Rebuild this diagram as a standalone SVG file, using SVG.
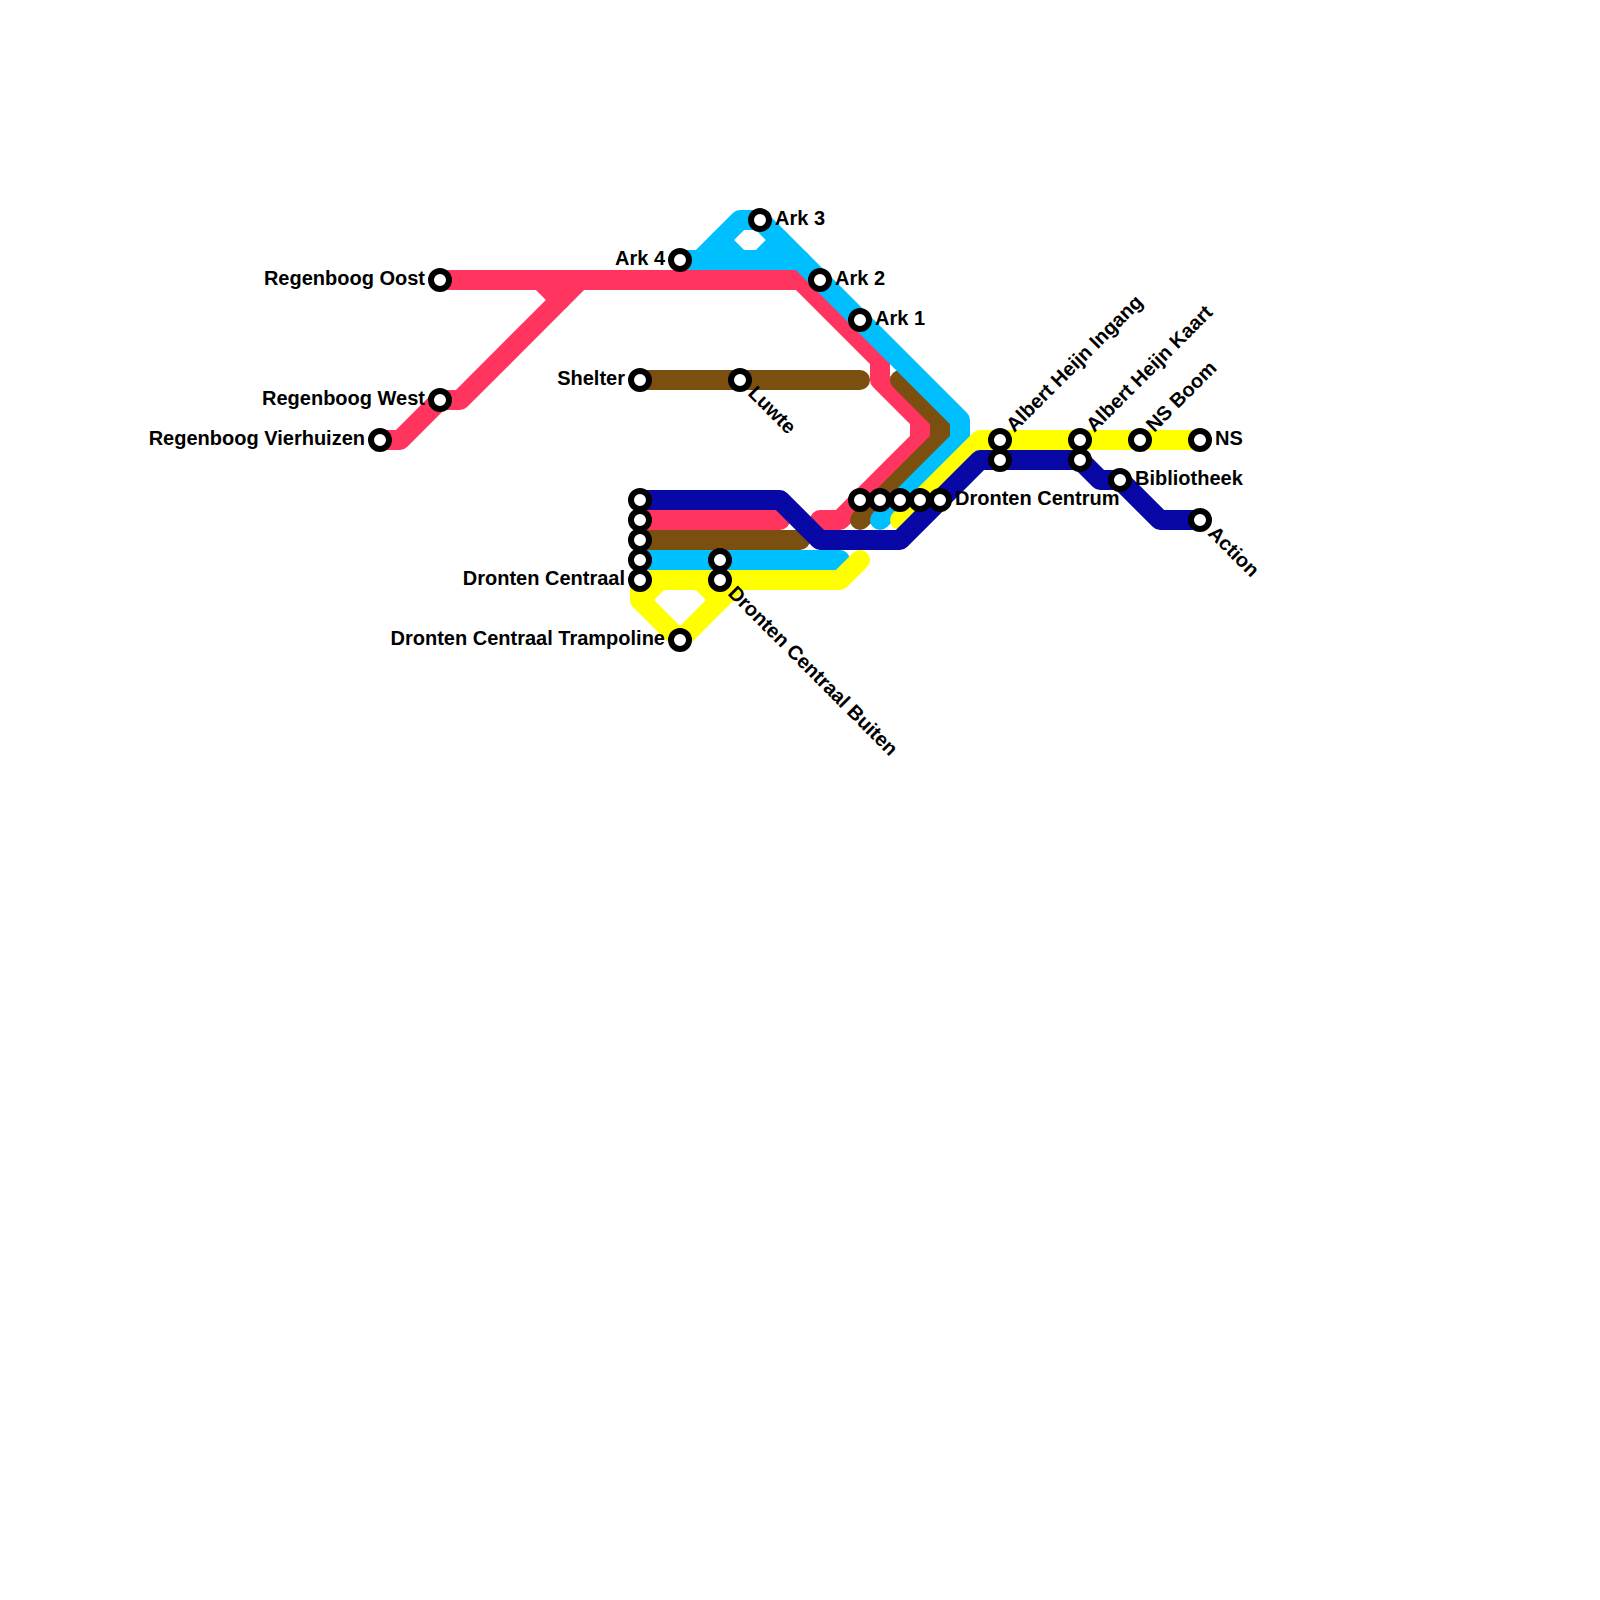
<svg xmlns="http://www.w3.org/2000/svg" width="1600" height="1600" viewBox="0 0 1600 1600">
<style>
.l{fill:none;stroke-width:20;stroke-linecap:round;stroke-linejoin:round}
.red{stroke:#ff3560}.cyan{stroke:#00bfff}.brown{stroke:#7b4f0f}.yellow{stroke:#ffff00}.navy{stroke:#0808a6}
.s{fill:#fff;stroke:#000;stroke-width:6}
text{font-family:"Liberation Sans",Arial,sans-serif;font-weight:700;font-size:20px;fill:#000}
.e{text-anchor:end}
</style>
<rect width="1600" height="1600" fill="#fff"/>
<g id="connectors">
<path class="l red" d="M440,280H800L880,360V380L920,420V440L840,520H820"/>
<path class="l red" d="M380,440H400L440,400H460L580,280"/>
<path class="l red" d="M540,280L560,300"/>
<path class="l red" d="M640,520H780"/>
<path class="l brown" d="M640,380H860"/>
<path class="l brown" d="M640,540H800"/>
<path class="l brown" d="M900,380L940,420V440L860,520"/>
<path class="l cyan" d="M640,560H840"/>
<path class="l cyan" d="M680,260H700L740,220H760L960,420V440L880,520"/>
<path class="l cyan" d="M680,260H800"/>
<path class="l cyan" d="M720,240L740,260M780,240L760,260"/>
<path class="l yellow" d="M640,580H840L860,560"/>
<path class="l yellow" d="M640,580V600L680,640L740,580"/>
<path class="l yellow" d="M660,580L640,600M700,580L720,600"/>
<path class="l yellow" d="M900,520L980,440H1200"/>
<path class="l navy" d="M640,500H780L820,540H900L980,460H1080L1100,480H1120L1160,520H1200"/>
</g>
<g id="regenboog-oost"><circle class="s" cx="440" cy="280" r="9"/><text class="e" x="425" y="285">Regenboog Oost</text></g>
<g id="regenboog-west"><circle class="s" cx="440" cy="400" r="9"/><text class="e" x="425" y="405">Regenboog West</text></g>
<g id="regenboog-vierhuizen"><circle class="s" cx="380" cy="440" r="9"/><text class="e" x="365" y="445">Regenboog Vierhuizen</text></g>
<g id="ark-4"><circle class="s" cx="680" cy="260" r="9"/><text class="e" x="665" y="265">Ark 4</text></g>
<g id="ark-3"><circle class="s" cx="760" cy="220" r="9"/><text x="775" y="225">Ark 3</text></g>
<g id="ark-2"><circle class="s" cx="820" cy="280" r="9"/><text x="835" y="285">Ark 2</text></g>
<g id="ark-1"><circle class="s" cx="860" cy="320" r="9"/><text x="875" y="325">Ark 1</text></g>
<g id="shelter"><circle class="s" cx="640" cy="380" r="9"/><text class="e" x="625" y="385">Shelter</text></g>
<g id="luwte"><circle class="s" cx="740" cy="380" r="9"/><text transform="translate(740 380) rotate(45)" x="15" y="5">Luwte</text></g>
<g id="dronten-centrum">
<circle class="s" cx="860" cy="500" r="9"/><circle class="s" cx="880" cy="500" r="9"/><circle class="s" cx="900" cy="500" r="9"/><circle class="s" cx="920" cy="500" r="9"/><circle class="s" cx="940" cy="500" r="9"/>
<text x="955" y="505">Dronten Centrum</text></g>
<g id="dronten-centraal">
<circle class="s" cx="640" cy="500" r="9"/><circle class="s" cx="640" cy="520" r="9"/><circle class="s" cx="640" cy="540" r="9"/><circle class="s" cx="640" cy="560" r="9"/><circle class="s" cx="640" cy="580" r="9"/>
<text class="e" x="625" y="585">Dronten Centraal</text></g>
<g id="dronten-centraal-buiten">
<circle class="s" cx="720" cy="560" r="9"/><circle class="s" cx="720" cy="580" r="9"/>
<text transform="translate(720 580) rotate(45)" x="15" y="5">Dronten Centraal Buiten</text></g>
<g id="dronten-centraal-trampoline"><circle class="s" cx="680" cy="640" r="9"/><text class="e" x="665" y="645">Dronten Centraal Trampoline</text></g>
<g id="albert-heijn-ingang">
<circle class="s" cx="1000" cy="440" r="9"/><circle class="s" cx="1000" cy="460" r="9"/>
<text transform="translate(1000 440) rotate(-45)" x="15" y="5">Albert Heijn Ingang</text></g>
<g id="albert-heijn-kaart">
<circle class="s" cx="1080" cy="440" r="9"/><circle class="s" cx="1080" cy="460" r="9"/>
<text transform="translate(1080 440) rotate(-45)" x="15" y="5">Albert Heijn Kaart</text></g>
<g id="ns-boom"><circle class="s" cx="1140" cy="440" r="9"/><text transform="translate(1140 440) rotate(-45)" x="15" y="5">NS Boom</text></g>
<g id="ns"><circle class="s" cx="1200" cy="440" r="9"/><text x="1215" y="445">NS</text></g>
<g id="bibliotheek"><circle class="s" cx="1120" cy="480" r="9"/><text x="1135" y="485">Bibliotheek</text></g>
<g id="action"><circle class="s" cx="1200" cy="520" r="9"/><text transform="translate(1200 520) rotate(45)" x="15" y="5">Action</text></g>
</svg>
